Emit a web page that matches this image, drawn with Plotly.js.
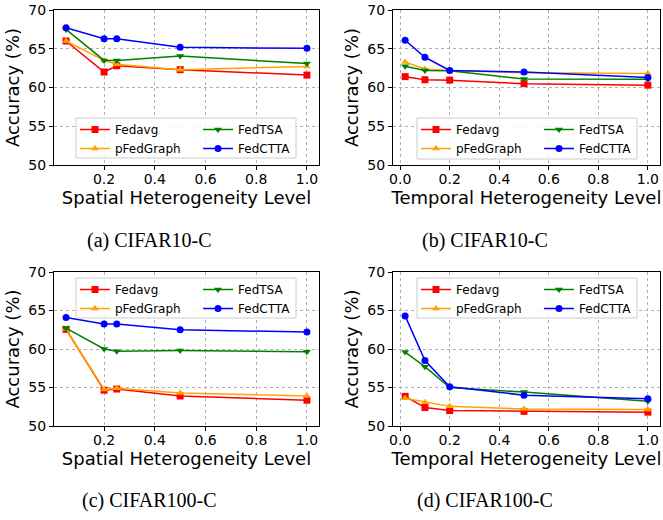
<!DOCTYPE html>
<html>
<head>
<meta charset="utf-8">
<script src="https://cdn.plot.ly/plotly-3.0.1.min.js"></script>
<style>html,body{margin:0;padding:0;background:#fff}#chart{width:663px;height:520px}</style>
</head>
<body>
<div id="chart"></div>
<script>
// ---- data ----
const xSpatial = [0.05, 0.2, 0.25, 0.5, 1.0];
const xTemporal = [0.02, 0.1, 0.2, 0.5, 1.0];
const methods = ["Fedavg", "pFedGraph", "FedTSA", "FedCTTA"];

const a_fedavg    = [66.0, 62.0, 62.8, 62.3, 61.6];
const a_pfedgraph = [66.0, 63.5, 63.0, 62.3, 62.7];
const a_fedtsa    = [67.5, 63.5, 63.5, 64.05, 63.1];
const a_fedctta   = [67.7, 66.3, 66.3, 65.2, 65.05];

const b_fedavg    = [61.4, 61.0, 60.95, 60.5, 60.3];
const b_pfedgraph = [63.3, 62.4, 62.2, 61.9, 61.8];
const b_fedtsa    = [62.75, 62.2, 62.15, 61.1, 61.05];
const b_fedctta   = [66.1, 63.9, 62.2, 62.0, 61.3];

const c_fedavg    = [62.55, 54.65, 54.8, 53.9, 53.35];
const c_pfedgraph = [62.6, 54.75, 54.9, 54.3, 53.9];
const c_fedtsa    = [62.7, 60.0, 59.7, 59.8, 59.65];
const c_fedctta   = [64.1, 63.25, 63.25, 62.5, 62.2];

const d_fedavg    = [53.85, 52.4, 52.0, 51.9, 51.8];
const d_pfedgraph = [53.6, 53.1, 52.55, 52.2, 52.15];
const d_fedtsa    = [59.6, 57.7, 55.0, 54.4, 53.2];
const d_fedctta   = [64.3, 58.5, 55.1, 54.0, 53.55];

const captions = ["(a) CIFAR10-C", "(b) CIFAR10-C", "(c) CIFAR100-C", "(d) CIFAR100-C"];
const xTitles = ["Spatial Heterogeneity Level", "Temporal Heterogeneity Level"];
const yTitle = "Accuracy (%)";

// ---- styling ----
const W = 663, H = 520;
const px = v => v / W, py = v => 1 - v / H;
const colors = ["#ff0000", "#ffa500", "#008000", "#0000ff"];
const symbols = ["square", "triangle-up", "triangle-down", "circle"];

const panels = [
  {x: xSpatial,  ys: [a_fedavg, a_pfedgraph, a_fedtsa, a_fedctta], xa: "x",  ya: "y",  box: [76, 118, 296, 158], cap: [149, 240]},
  {x: xTemporal, ys: [b_fedavg, b_pfedgraph, b_fedtsa, b_fedctta], xa: "x2", ya: "y2", box: [417, 118, 637, 159], cap: [485, 240]},
  {x: xSpatial,  ys: [c_fedavg, c_pfedgraph, c_fedtsa, c_fedctta], xa: "x3", ya: "y3", box: [76, 278, 296, 318], cap: [149, 500]},
  {x: xTemporal, ys: [d_fedavg, d_pfedgraph, d_fedtsa, d_fedctta], xa: "x4", ya: "y4", box: [417, 278, 637, 318], cap: [485, 500]}
];

const traces = [];
const layout = {
  width: W, height: H,
  margin: {l: 0, r: 0, t: 0, b: 0},
  paper_bgcolor: "#fff", plot_bgcolor: "#fff",
  font: {family: "DejaVu Sans", size: 14, color: "#000"},
  shapes: [], annotations: []
};

let legendIdx = 1;
panels.forEach((p, i) => {
  const lgA = legendIdx === 1 ? "legend" : "legend" + legendIdx;
  const lgB = "legend" + (legendIdx + 1);
  legendIdx += 2;
  methods.forEach((m, k) => {
    traces.push({
      type: "scatter", mode: "lines+markers", name: m,
      x: p.x, y: p.ys[k], xaxis: p.xa, yaxis: p.ya,
      line: {color: colors[k], width: 1.5},
      marker: {color: colors[k], symbol: symbols[k], size: 7},
      legend: (k === 0 || k === 1) ? lgA : lgB
    });
  });
  const [bx0, by0, bx1, by1] = p.box;
  layout.shapes.push({type: "rect", xref: "paper", yref: "paper", layer: "above",
    x0: px(bx0), x1: px(bx1), y0: py(by1), y1: py(by0),
    fillcolor: "rgba(255,255,255,0.8)", line: {color: "#cccccc", width: 1}});
  const lgStyle = {bgcolor: "rgba(0,0,0,0)", borderwidth: 0, font: {family: "DejaVu Sans", size: 12},
    xanchor: "left", yanchor: "top", orientation: "v", tracegroupgap: 0};
  layout[lgA] = Object.assign({x: px(bx0 - 1), y: py(by0 - 3)}, lgStyle);
  layout[lgB] = Object.assign({x: px(bx0 + 122), y: py(by0 - 3)}, lgStyle);
  layout.annotations.push({text: captions[i], xref: "paper", yref: "paper",
    x: px(p.cap[0]), y: py(p.cap[1]), xanchor: "center", yanchor: "middle", showarrow: false,
    font: {family: "Liberation Serif", size: 20, color: "#000"}});
});

const axBase = {
  showline: true, mirror: true, linecolor: "#000", linewidth: 1,
  ticks: "outside", ticklen: 4, tickcolor: "#000", tickwidth: 1,
  showgrid: true, gridcolor: "#b0b0b0", griddash: "dot", gridwidth: 1,
  zeroline: false, tickfont: {family: "DejaVu Sans", size: 14, color: "#000"}
};
const xDomL = [px(54), px(319)], xDomR = [px(393), px(660)];
const yDomT = [py(165), py(10)], yDomB = [py(426), py(272)];
const xRangeS = [0.0025, 1.0475], xRangeT = [-0.029, 1.049];
const axDefs = [
  ["xaxis", "yaxis", xDomL, yDomT, xRangeS, xTitles[0]],
  ["xaxis2", "yaxis2", xDomR, yDomT, xRangeT, xTitles[1]],
  ["xaxis3", "yaxis3", xDomL, yDomB, xRangeS, xTitles[0]],
  ["xaxis4", "yaxis4", xDomR, yDomB, xRangeT, xTitles[1]]
];
axDefs.forEach(([xk, yk, xd, yd, xr, xt], i) => {
  const anchorY = "y" + (i === 0 ? "" : i + 1), anchorX = "x" + (i === 0 ? "" : i + 1);
  layout[xk] = Object.assign({}, axBase, {domain: xd, anchor: anchorY, range: xr,
    tick0: 0, dtick: 0.2, tickformat: ".1f", ticklabelstandoff: -3,
    title: {text: xt, font: {family: "DejaVu Sans", size: 18}, standoff: 0}});
  layout[yk] = Object.assign({}, axBase, {domain: yd, anchor: anchorX, range: [50, 70],
    tick0: 50, dtick: 5,
    title: {text: yTitle, font: {family: "DejaVu Sans", size: 18}, standoff: 4}});
});

Plotly.newPlot("chart", traces, layout, {displayModeBar: false, staticPlot: true});
</script>
</body>
</html>
